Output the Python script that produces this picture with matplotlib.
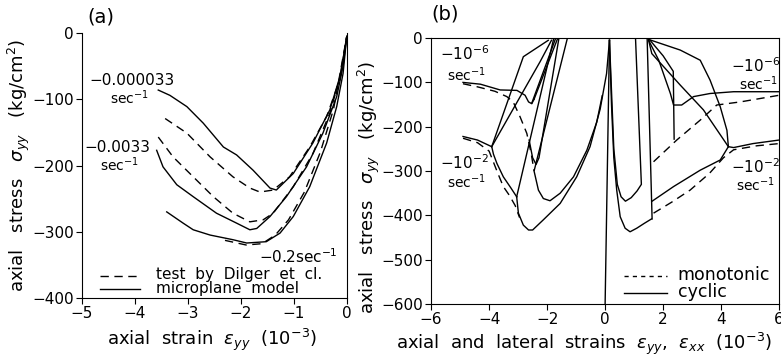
import matplotlib
matplotlib.use("Agg")
import matplotlib.pyplot as plt

plt.rcParams['font.family'] = ['DejaVu Sans']
plt.rcParams['mathtext.fontset'] = 'dejavusans'

# ---- panel (a): axial stress-strain at three strain rates ----
a_slow_model_x = [-3.56, -3.34, -3.02, -2.71, -2.33, -2.08, -1.77, -1.45, -1.33, -1.01, -0.64, -0.32, -0.13, -0.04, 0.0]
a_slow_model_y = [-86, -94, -111, -136, -172, -184, -207, -234, -237, -212, -166, -116, -66, -25, -5]
a_slow_test_x = [-3.43, -3.02, -2.58, -2.15, -1.83, -1.64, -1.39, -1.08, -0.70, -0.38, -0.13, 0.0]
a_slow_test_y = [-129, -151, -187, -217, -234, -240, -237, -217, -172, -126, -70, -5]
a_mid_model_x = [-3.59, -3.47, -3.21, -2.90, -2.46, -2.08, -1.83, -1.70, -1.45, -1.14, -0.76, -0.45, -0.19, -0.07, 0.0]
a_mid_model_y = [-177, -202, -229, -247, -272, -287, -297, -295, -277, -247, -202, -151, -96, -50, -5]
a_mid_test_x = [-3.56, -3.28, -2.90, -2.52, -2.15, -1.83, -1.58, -1.39, -1.01, -0.64, -0.32, -0.12, 0.0]
a_mid_test_y = [-157, -187, -217, -247, -272, -285, -282, -272, -232, -182, -121, -65, -5]
a_fast_model_x = [-3.40, -3.09, -2.90, -2.58, -2.15, -1.89, -1.52, -1.26, -1.01, -0.70, -0.38, -0.19, -0.07, 0.0]
a_fast_model_y = [-270, -287, -297, -305, -312, -317, -315, -302, -277, -232, -166, -111, -61, -5]
a_fast_test_x = [-2.3, -1.9, -1.6, -1.35, -1.1, -0.8, -0.5, -0.25, 0.0]
a_fast_test_y = [-313, -320, -318, -305, -282, -240, -180, -115, -5]

a_xticks = [-5, -4, -3, -2, -1, 0]
a_yticks = [0, -100, -200, -300, -400]

# ---- panel (b): monotonic vs cyclic, axial (left) and lateral (right) ----
b_slow_mono_L_x = [-4.9, -4.4, -3.8, -3.39, -3.17, -2.93, -2.70, -2.55, -2.45]
b_slow_mono_L_y = [-103, -110, -120, -132, -144, -178, -215, -260, -300]
b_slow_cyc_L_x = [-4.9, -4.3, -3.62, -3.04, -2.76, -2.64, -2.53, -2.45]
b_slow_cyc_L_y = [-100, -104, -117, -118, -129, -144, -148, -138]
b_fast_mono_L_x = [-4.9, -4.4, -4.0, -3.85, -3.7, -3.51, -3.3, -3.1, -2.95]
b_fast_mono_L_y = [-226, -236, -255, -280, -305, -335, -355, -378, -405]
b_fast_cyc_L_x = [-4.9, -4.4, -3.91, -3.85, -3.73, -3.51, -3.25, -3.05]
b_fast_cyc_L_y = [-222, -230, -245, -262, -283, -313, -338, -358]

b_slow_mono_R_x = [1.67, 2.47, 3.28, 3.85, 4.66, 6.0]
b_slow_mono_R_y = [-279, -230, -185, -151, -144, -129]
b_slow_cyc_R_x = [1.5, 1.85, 2.25, 2.36, 2.64, 3.05, 3.62, 4.43, 6.0]
b_slow_cyc_R_y = [-5, -50, -125, -151, -151, -132, -125, -121, -121]
b_fast_mono_R_x = [1.67, 2.3, 2.93, 3.6, 4.08, 4.43, 5.23, 6.0]
b_fast_mono_R_y = [-395, -370, -343, -305, -270, -252, -243, -238]
b_fast_cyc_R_x = [1.62, 2.36, 3.28, 3.97, 4.25, 4.43, 5.1, 6.0]
b_fast_cyc_R_y = [-368, -335, -298, -275, -245, -247, -238, -230]

# unloading / reloading branches of the cyclic runs
b_loops = [
    ([-3.05, -2.99, -2.82, -2.64, -2.5, -2.13, -1.55, -0.98, -0.52, -0.17, 0.05, 0.15],
     [-358, -395, -422, -433, -433, -410, -373, -313, -245, -160, -80, -5]),
    ([-3.05, -1.78], [-358, -3]),
    ([-3.91, -2.82, -1.96], [-245, -42, -5]),
    ([-3.91, -2.24, -1.85], [-245, -53, -5]),
    ([-2.53, -1.72], [-147, -3]),
    ([-2.45, -1.65], [-138, -3]),
    ([-2.62, -2.5, -2.38, -2.28, -1.6], [-230, -270, -285, -270, -3]),
    ([-1.3, -2.45, -2.3, -2.13, -1.9, -1.55, -1.09, -0.63, -0.29, -0.1],
     [0, -300, -343, -362, -367, -350, -313, -253, -190, -130]),
    ([0.0, 0.15], [-600, -5]),
    ([0.15, 0.22, 0.3, 0.4, 0.52, 0.69, 0.86, 1.09, 1.35, 1.6],
     [-5, -150, -270, -343, -403, -429, -437, -429, -418, -408]),
    ([1.45, 1.62], [-3, -408]),
    ([1.5, 2.59, 3.28, 3.62, 3.97, 4.2, 4.25], [-3, -27, -50, -95, -155, -208, -245]),
    ([1.5, 1.61, 2.59, 3.39, 4.25], [-5, -35, -106, -162, -245]),
    ([1.55, 2.0, 2.35, 2.38], [-5, -40, -75, -228]),
    ([0.15, 0.3, 0.42, 0.55, 0.7, 0.9, 1.1, 1.25, 1.05],
     [-5, -250, -330, -358, -368, -360, -345, -330, -3]),
]

b_xticks = [-6, -4, -2, 0, 2, 4, 6]
b_yticks = [0, -100, -200, -300, -400, -500, -600]

lw = 1.0
dash = (6, 4)
fs_tick = 11
fs_lab = 13
ylab = r'axial   stress   $\sigma_{yy}$   (kg/cm$^2$)'

fig = plt.figure(figsize=(7.81, 3.56), dpi=100)
ax_a = fig.add_axes([0.105, 0.163, 0.339, 0.744])
ax_b = fig.add_axes([0.552, 0.146, 0.4456, 0.747])

# panel (a)
for x, y in [(a_slow_model_x, a_slow_model_y), (a_mid_model_x, a_mid_model_y),
             (a_fast_model_x, a_fast_model_y)]:
    ax_a.plot(x, y, color='black', lw=lw)
for x, y in [(a_slow_test_x, a_slow_test_y), (a_mid_test_x, a_mid_test_y),
             (a_fast_test_x, a_fast_test_y)]:
    ax_a.plot(x, y, color='black', lw=lw, dashes=dash)

ax_a.set_xlim(-5, 0)
ax_a.set_ylim(-400, 0)
ax_a.set_xticks(a_xticks)
ax_a.set_yticks(a_yticks)
ax_a.spines['top'].set_visible(False)
ax_a.tick_params(direction='out', length=4, labelsize=fs_tick, pad=2)
ax_a.set_ylabel(ylab, fontsize=fs_lab)
ax_a.yaxis.set_label_coords(-0.19, 0.5)
ax_a.set_xlabel(r'axial  strain  $\varepsilon_{yy}$  (10$^{-3}$)', fontsize=fs_lab)
ax_a.xaxis.set_label_coords(0.49, -0.11)

ax_a.text(-4.86, -72, '−0.000033', fontsize=fs_tick, va='center', ha='left')
ax_a.text(-4.47, -97, r'sec$^{-1}$', fontsize=fs_tick - 1, va='center', ha='left')
ax_a.text(-4.95, -173, '−0.0033', fontsize=fs_tick, va='center', ha='left')
ax_a.text(-4.66, -199, r'sec$^{-1}$', fontsize=fs_tick - 1, va='center', ha='left')
ax_a.text(-1.66, -338, r'−0.2sec$^{-1}$', fontsize=fs_tick, va='center', ha='left')

ax_a.plot([-4.66, -3.9], [-367, -367], color='black', lw=lw, dashes=dash)
ax_a.plot([-4.66, -3.9], [-387, -387], color='black', lw=lw)
ax_a.text(-3.6, -365, 'test  by  Dilger  et  cl.', fontsize=fs_tick, va='center', ha='left')
ax_a.text(-3.6, -386, 'microplane  model', fontsize=fs_tick, va='center', ha='left')
ax_a.text(-4.9, 25, '(a)', fontsize=14, va='center', ha='left', clip_on=False)

# panel (b)
for x, y in [(b_slow_cyc_L_x, b_slow_cyc_L_y), (b_fast_cyc_L_x, b_fast_cyc_L_y),
             (b_slow_cyc_R_x, b_slow_cyc_R_y), (b_fast_cyc_R_x, b_fast_cyc_R_y)]:
    ax_b.plot(x, y, color='black', lw=lw)
for x, y in [(b_slow_mono_L_x, b_slow_mono_L_y), (b_fast_mono_L_x, b_fast_mono_L_y),
             (b_slow_mono_R_x, b_slow_mono_R_y), (b_fast_mono_R_x, b_fast_mono_R_y)]:
    ax_b.plot(x, y, color='black', lw=lw, dashes=dash)
for x, y in b_loops:
    ax_b.plot(x, y, color='black', lw=lw)

ax_b.set_xlim(-6, 6)
ax_b.set_ylim(-600, 0)
ax_b.set_xticks(b_xticks)
ax_b.set_yticks(b_yticks)
ax_b.tick_params(direction='out', length=4, labelsize=fs_tick, pad=2)
ax_b.set_ylabel(ylab, fontsize=fs_lab)
ax_b.yaxis.set_label_coords(-0.142, 0.44)
ax_b.set_xlabel(r'axial  and  lateral  strains  $\varepsilon_{yy}$,  $\varepsilon_{xx}$  (10$^{-3}$)',
                fontsize=fs_lab)
ax_b.xaxis.set_label_coords(0.44, -0.1)

ax_b.text(-5.7, -35, r'$-10^{-6}$', fontsize=fs_tick, va='center', ha='left')
ax_b.text(-5.45, -82, r'sec$^{-1}$', fontsize=fs_tick - 1, va='center', ha='left')
ax_b.text(-5.7, -280, r'$-10^{-2}$', fontsize=fs_tick, va='center', ha='left')
ax_b.text(-5.45, -325, r'sec$^{-1}$', fontsize=fs_tick - 1, va='center', ha='left')
ax_b.text(4.35, -62, r'$-10^{-6}$', fontsize=fs_tick, va='center', ha='left', clip_on=False)
ax_b.text(4.6, -102, r'sec$^{-1}$', fontsize=fs_tick - 1, va='center', ha='left', clip_on=False)
ax_b.text(4.35, -290, r'$-10^{-2}$', fontsize=fs_tick, va='center', ha='left', clip_on=False)
ax_b.text(4.5, -330, r'sec$^{-1}$', fontsize=fs_tick - 1, va='center', ha='left', clip_on=False)

ax_b.plot([0.65, 2.15], [-537, -537], color='black', lw=lw, dashes=(3, 3))
ax_b.plot([0.65, 2.15], [-575, -575], color='black', lw=lw)
ax_b.text(2.5, -535, 'monotonic', fontsize=12.5, va='center', ha='left')
ax_b.text(2.5, -573, 'cyclic', fontsize=12.5, va='center', ha='left')
ax_b.text(-6.0, 55, '(b)', fontsize=14, va='center', ha='left', clip_on=False)

fig.savefig('out.png', dpi=100)
